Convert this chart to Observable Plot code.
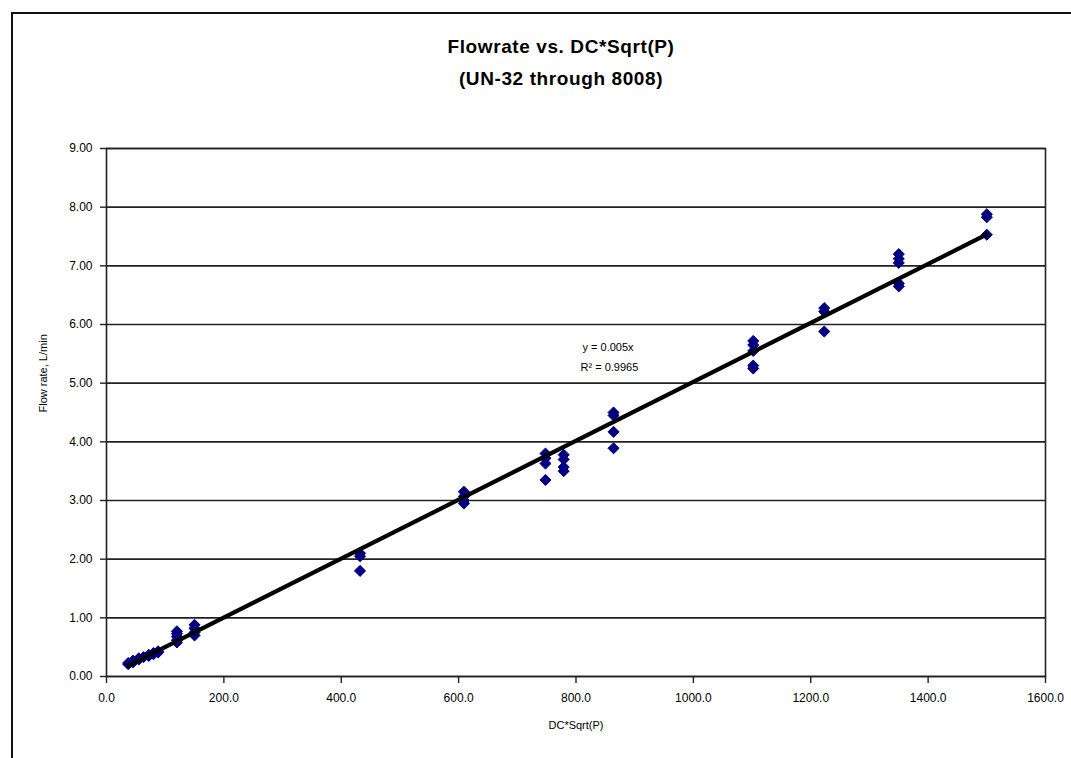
<!DOCTYPE html>
<html>
<head>
<meta charset="utf-8">
<script src="https://cdn.jsdelivr.net/npm/d3@7"></script>
<script src="https://cdn.jsdelivr.net/npm/@observablehq/plot@0.6"></script>
<style>
  html, body { margin: 0; padding: 0; background: #fff; }
  #wrap { position: relative; width: 1071px; height: 758px; overflow: hidden; font-family: "Liberation Sans", Arial, sans-serif; }
  #border { position: absolute; left: 11px; top: 12px; right: -10px; bottom: -10px; border-left: 2px solid #111; border-top: 2px solid #111; }
  .title { position: absolute; left: 261px; width: 600px; text-align: center; font-weight: bold; font-size: 19px; letter-spacing: 0.6px; color: #000; }
  #chart { position: absolute; left: 0; top: 0; }
</style>
</head>
<body>
<div id="wrap">
  <div id="border"></div>
  <div id="chart"></div>
  <div class="title" style="top:36px">Flowrate vs. DC*Sqrt(P)</div>
  <div class="title" style="top:68px">(UN-32 through 8008)</div>
</div>
<script>
// Data
const xTicks = [0, 200, 400, 600, 800, 1000, 1200, 1400, 1600];
const yTicks = [0, 1, 2, 3, 4, 5, 6, 7, 8, 9];
const dcSqrtP = [
  37, 37, 45, 45, 55, 55, 63, 72, 72, 80, 80, 88, 88,
  120, 120, 120, 120, 120,
  150, 150, 150, 150,
  432, 432, 432,
  609, 609, 609, 609,
  748, 748, 748, 748,
  779, 779, 779, 779,
  864, 864, 864, 864,
  1102, 1102, 1102, 1102, 1102,
  1223, 1223, 1223,
  1350, 1350, 1350, 1350, 1350,
  1500, 1500, 1500
];
const flowRate = [
  0.21, 0.23, 0.24, 0.27, 0.29, 0.31, 0.33, 0.35, 0.37, 0.38, 0.40, 0.41, 0.43,
  0.58, 0.62, 0.68, 0.73, 0.77,
  0.70, 0.75, 0.82, 0.88,
  1.80, 2.05, 2.10,
  2.95, 3.00, 3.07, 3.15,
  3.35, 3.63, 3.72, 3.80,
  3.50, 3.57, 3.70, 3.78,
  3.89, 4.17, 4.45, 4.50,
  5.25, 5.30, 5.55, 5.65, 5.72,
  5.88, 6.22, 6.28,
  6.65, 6.70, 7.05, 7.12, 7.20,
  7.53, 7.83, 7.88
];
const trendLabel = "y = 0.005x";
const r2Label = "R² = 0.9965";

const points = dcSqrtP.map((x, i) => ({x, y: flowRate[i]}));
// least-squares line through the origin (Excel trendline with intercept 0)
const slope = d3.sum(points, d => d.x * d.y) / d3.sum(points, d => d.x * d.x);
const xMin = d3.min(dcSqrtP), xMax = d3.max(dcSqrtP);
const trend = [{x: xMin, y: slope * xMin}, {x: xMax, y: slope * xMax}];

const font = "Liberation Sans, Arial, sans-serif";
const chart = Plot.plot({
  width: 1071,
  height: 758,
  marginLeft: 106,
  marginRight: 26,
  marginTop: 148,
  marginBottom: 82,
  style: {fontFamily: font, fontSize: "12px", color: "#000", background: "transparent", overflow: "visible"},
  x: {domain: [0, 1600]},
  y: {domain: [0, 9]},
  marks: [
    Plot.gridY(yTicks, {stroke: "#222", strokeOpacity: 1, strokeWidth: 1.6}),
    Plot.frame({stroke: "#222", strokeWidth: 1.6}),
    Plot.axisY(yTicks, {tickFormat: d3.format(".2f"), tickSize: 6, tickPadding: 8, label: null, stroke: "#222", strokeWidth: 1.4, fontSize: 12, letterSpacing: "0.9px"}),
    Plot.axisX(xTicks, {tickFormat: d3.format(".1f"), tickSize: 7, tickPadding: 10, label: null, stroke: "#222", strokeWidth: 1.4, fontSize: 12, letterSpacing: "0.9px"}),
    Plot.dot(points, {x: "x", y: "y", symbol: "diamond2", r: 5, fill: "#000080", stroke: "#000080", strokeWidth: 1, strokeLinejoin: "round"}),
    Plot.line(trend, {x: "x", y: "y", stroke: "#000", strokeWidth: 4.2}),
    Plot.text([trendLabel], {frameAnchor: "top-left", dx: 476, dy: 195, textAnchor: "start", fontSize: 11, letterSpacing: "0.4px", fill: "#000"}),
    Plot.text([r2Label], {frameAnchor: "top-left", dx: 474, dy: 215, textAnchor: "start", fontSize: 11, letterSpacing: "0.4px", fill: "#000"}),
    Plot.text(["Flow rate, L/min"], {frameAnchor: "left", dx: -63, rotate: -90, fontSize: 11, letterSpacing: "0.6px", fill: "#000"}),
    Plot.text(["DC*Sqrt(P)"], {frameAnchor: "bottom", dy: 52, fontSize: 11, letterSpacing: "0.6px", fill: "#000"})
  ]
});
document.getElementById("chart").appendChild(chart);
</script>
</body>
</html>
